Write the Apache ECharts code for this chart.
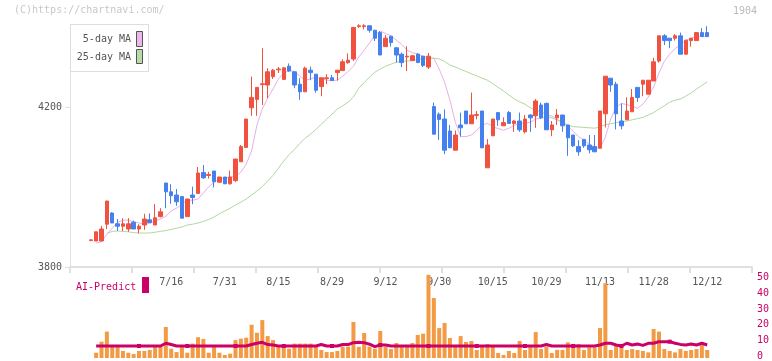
<!DOCTYPE html>
<html><head><meta charset="utf-8">
<script src="https://cdn.jsdelivr.net/npm/echarts@6/dist/echarts.min.js"></script>
<style>html,body{margin:0;padding:0;background:#fff}#c{width:772px;height:361px}</style>
</head><body><div id="c"></div>
<script>
const dates = ['6/25','6/26','6/27','6/30',
'7/1','7/2','7/3','7/4','7/7','7/8','7/9','7/10','7/11','7/14','7/15','7/16','7/17','7/18','7/22','7/23','7/24','7/25','7/28','7/29','7/30','7/31',
'8/1','8/4','8/5','8/6','8/7','8/8','8/12','8/13','8/14','8/15','8/18','8/19','8/20','8/21','8/22','8/25','8/26','8/27','8/28','8/29',
'9/1','9/2','9/3','9/4','9/5','9/8','9/9','9/10','9/11','9/12','9/16','9/17','9/18','9/19','9/22','9/24','9/25','9/26','9/29','9/30',
'10/1','10/2','10/3','10/6','10/7','10/8','10/9','10/10','10/14','10/15','10/16','10/17','10/20','10/21','10/22','10/23','10/24','10/27','10/28','10/29','10/30','10/31',
'11/4','11/5','11/6','11/7','11/10','11/11','11/12','11/13','11/14','11/17','11/18','11/19','11/20','11/21','11/25','11/26','11/27','11/28',
'12/1','12/2','12/3','12/4','12/5','12/8','12/9','12/10','12/11','12/12'];
const tickLabels = ['7/16','7/31','8/15','8/29','9/12','9/30','10/15','10/29','11/13','11/28','12/12'];
const priceTicks = [3800, 4200];
const volumeTicks = [0, 10, 20, 30, 40, 50];

const opens = [3866,3865,3865,3907,3935,3908,3902,3895,3912,3895,
3905,3918,3905,3926,4010,3988,3980,3976,3926,3980,
3984,4036,4029,4040,4012,4025,4008,4016,4063,4099,
4198,4219,4256,4255,4276,4293,4269,4302,4288,4257,
4238,4292,4282,4251,4271,4273,4286,4291,4311,4320,
4401,4401,4403,4392,4386,4351,4377,4348,4332,4325,
4316,4332,4327,4300,4201,4182,4170,4140,4092,4155,
4190,4158,4179,4190,4048,4128,4186,4153,4186,4159,
4165,4138,4180,4178,4205,4209,4143,4173,4180,4155,
4130,4101,4119,4105,4101,4097,4183,4272,4257,4165,
4168,4188,4249,4257,4232,4265,4315,4378,4372,4372,
4378,4332,4366,4366,4386,4386];
const closes = [3868,3888,3895,3965,3910,3902,3908,3908,3895,3902,
3920,3911,3923,3938,3988,3978,3963,3922,3970,3974,
4035,4023,4031,4013,4025,4008,4025,4070,4101,4170,
4224,4249,4258,4288,4292,4295,4298,4290,4255,4238,
4297,4286,4242,4273,4273,4266,4292,4313,4317,4399,
4403,4403,4392,4372,4330,4372,4361,4330,4311,4327,
4328,4311,4304,4327,4132,4169,4092,4098,4130,4148,
4158,4180,4181,4098,4105,4170,4168,4161,4159,4165,
4143,4170,4173,4215,4173,4143,4155,4180,4153,4123,
4103,4088,4103,4093,4088,4190,4277,4255,4183,4153,
4190,4224,4224,4267,4267,4313,4378,4366,4366,4378,
4332,4367,4372,4386,4376,4376];
const lows = [3866,3865,3865,3895,3910,3890,3890,3888,3895,3884,
3893,3910,3905,3924,3947,3958,3953,3922,3926,3957,
3984,4020,4021,3999,4010,4008,4006,4012,4063,4099,
4178,4178,4205,4222,4270,4285,4269,4288,4247,4218,
4238,4267,4236,4227,4257,4265,4266,4291,4308,4315,
4398,4394,4386,4365,4330,4351,4351,4311,4300,4290,
4316,4311,4300,4295,4132,4118,4082,4098,4092,4126,
4158,4158,4169,4098,4048,4128,4153,4153,4159,4138,
4138,4134,4138,4148,4170,4143,4127,4155,4138,4078,
4100,4078,4098,4084,4088,4097,4149,4238,4144,4144,
4168,4188,4213,4227,4232,4265,4311,4355,4347,4366,
4332,4332,4351,4366,4376,4376];
const highs = [3868,3888,3903,3965,3937,3920,3922,3922,3916,3907,
3933,3934,3957,3947,4010,4007,3995,3976,3970,4001,
4050,4055,4038,4040,4025,4025,4041,4070,4105,4170,
4276,4249,4347,4297,4295,4300,4298,4309,4288,4272,
4301,4301,4282,4273,4282,4280,4292,4319,4334,4399,
4407,4407,4404,4392,4390,4380,4377,4350,4336,4352,
4330,4335,4327,4335,4211,4186,4194,4155,4141,4186,
4190,4236,4190,4190,4120,4170,4186,4174,4190,4167,
4186,4180,4182,4220,4211,4211,4165,4195,4180,4155,
4130,4117,4119,4130,4130,4190,4277,4272,4263,4209,
4224,4245,4249,4267,4267,4323,4378,4382,4372,4382,
4386,4367,4372,4386,4397,4402];

const ma5 = [null,3860,3863,3882,3897,3912,3917,3917,3913,3910,
3907,3909,3915,3920,3927,3940,3947,3957,3967,3967,
3970,3985,4000,4012,4020,4022,4025,4026,4037,4057,
4090,4155,4195,4222,4245,4270,4285,4291,4289,4277,
4267,4270,4275,4271,4267,4266,4267,4277,4289,4302,
4325,4342,4360,4380,4390,4384,4378,4367,4357,4342,
4336,4332,4327,4325,4321,4295,4262,4217,4162,4126,
4126,4130,4142,4155,4159,4151,4146,4142,4147,4154,
4159,4159,4162,4170,4172,4175,4173,4167,4162,4152,
4139,4126,4117,4107,4099,4097,4125,4170,4200,4209,
4206,4202,4197,4207,4225,4250,4285,4314,4332,4346,
4355,4367,4372,4376,4377,4376];
const ma25 = [null,null,null,3884,3889,3890,3889,3888,3886,3885,
3885,3885,3887,3889,3891,3894,3897,3900,3905,3907,
3910,3914,3919,3925,3933,3940,3947,3955,3962,3970,
3980,3990,4001,4015,4029,4047,4065,4081,4094,4109,
4122,4132,4144,4157,4170,4182,4195,4203,4212,4225,
4247,4261,4275,4287,4295,4302,4307,4312,4314,4315,
4316,4319,4321,4322,4322,4320,4314,4305,4300,4294,
4289,4283,4278,4272,4267,4258,4249,4240,4230,4220,
4213,4207,4198,4192,4188,4182,4177,4170,4161,4155,
4151,4150,4149,4148,4147,4150,4156,4158,4161,4163,
4165,4168,4171,4174,4180,4186,4195,4203,4212,4217,
4220,4227,4235,4245,4254,4263];

const volume = [null,3.3,10.2,16.5,7.1,6.8,4.4,3.3,2.5,4.4,
4.4,5,6.9,7.7,19.4,5.8,3.7,6.9,3.3,9,
13,11.9,3.3,6.9,3.3,1.9,2.7,11.2,12.1,12.7,
20.8,15.8,23.7,13.7,11.2,7.1,7.1,5.8,9,9,
9,9,7.1,5,3.7,3.7,4.4,7.1,7.1,22.5,
7,15.6,7.1,5.8,16.9,7.1,5.6,9.4,7.1,7.1,
9.4,14.4,15.2,52,37.5,18.7,21.9,12.5,7.1,13.7,
10,10.6,5,7.1,8.7,7.1,3.1,1.9,4.4,3.1,
10.6,5,7.1,16.2,5.6,7.1,3.1,5.1,5,9.8,
6.7,8.7,5,6.7,6.7,18.7,46.7,5,8.1,6.2,
5,5.6,5,4.4,3.5,18.1,16.5,5.6,4.4,3.5,
5.6,4.4,5,5.6,8.1,5];
const aiPredict = [null,7.5,7.5,7.5,7.5,7.5,7.5,7.5,7.5,7.5,
7.5,7.5,7.5,7.5,9.2,8.4,7.5,7.5,7.5,7.5,
7.5,7.5,7.5,7.5,7.5,7.5,7.5,7.5,7.5,7.5,
8.4,9.2,9.8,8.4,8.1,7.5,7.5,7.5,7.5,7.5,
7.5,7.5,7.5,8.4,7.5,7.5,7.5,8.4,8.4,9.6,
9.8,9.6,8.6,7.1,8.1,8.1,7.5,7.5,7.5,7.5,
7.5,7.5,7.5,7.5,7.5,7.5,7.5,7.5,7.5,7.5,
7.5,7.5,7.5,7.5,7.5,7.5,7.5,7.5,7.5,7.5,
7.5,7.5,7.5,7.5,7.5,8.4,7.5,7.5,7.5,7.5,
7.5,7.5,7.5,7.5,7.5,8.1,9.2,9.2,8.1,7.5,
9.2,8.1,8.7,7.9,9.2,9.2,10.2,10.2,10.2,9.2,
8.5,8.1,8.7,8.1,9.2,8.1];

const FONT = '"DejaVu Sans Mono", monospace';
const UP = '#f0523f', DOWN = '#4480ee';
const candleData = dates.map((d, i) => [opens[i], closes[i], lows[i], highs[i]]);

const chart = echarts.init(document.getElementById('c'), null, {renderer: 'canvas'});
chart.setOption({
  animation: false,
  backgroundColor: '#fff',
  textStyle: {fontFamily: FONT},
  grid: [
    {left: 70, top: 24, width: 682, height: 243},
    {left: 88.1, top: 24, width: 621.8, height: 243},
    {left: 88.1, top: 262, width: 621.8, height: 96},
    {left: 70, top: 262, width: 682, height: 96}
  ],
  xAxis: [
    {gridIndex: 0, type: 'value', min: 0, max: 11, interval: 1,
     axisLine: {show: true, onZero: false, lineStyle: {color: '#e0e0e0', width: 2}},
     axisTick: {show: true, length: 6, lineStyle: {color: '#e0e0e0', width: 2}},
     axisLabel: {show: false}, splitLine: {show: false}},
    {gridIndex: 1, type: 'category', data: dates, boundaryGap: true,
     axisLine: {show: false}, axisTick: {show: false}, splitLine: {show: false},
     axisLabel: {interval: (i, v) => tickLabels.includes(v), margin: 10, color: '#555', fontSize: 10, fontFamily: FONT}},
    {gridIndex: 2, type: 'category', data: dates, boundaryGap: true, show: false},
    {gridIndex: 3, type: 'value', min: 0, max: 1, show: false}
  ],
  yAxis: [
    {gridIndex: 0, type: 'value', min: 3800, max: 4407.5,
     axisLine: {show: true, onZero: false, lineStyle: {color: '#e0e0e0', width: 1}},
     axisTick: {show: true, length: 5, customValues: priceTicks, lineStyle: {color: '#e0e0e0'}},
     axisLabel: {customValues: priceTicks, formatter: v => String(Math.round(v)), color: '#555', fontSize: 10, margin: 8, fontFamily: FONT},
     splitLine: {show: false}},
    {gridIndex: 1, type: 'value', min: 3800, max: 4407.5, show: false},
    {gridIndex: 2, type: 'value', min: 0, max: 60, show: false},
    {gridIndex: 3, type: 'value', min: 0, max: 60, interval: 10, position: 'right',
     axisLine: {show: false}, axisTick: {show: false}, splitLine: {show: false},
     axisLabel: {customValues: volumeTicks, formatter: v => String(Math.round(v)), color: '#cc0066', fontSize: 10, margin: 5, fontFamily: FONT}}
  ],
  series: [
    {name: '5-day MA', type: 'line', xAxisIndex: 1, yAxisIndex: 1, data: ma5, symbol: 'none',
     lineStyle: {color: '#e8b0e8', width: 1}, z: 1},
    {name: '25-day MA', type: 'line', xAxisIndex: 1, yAxisIndex: 1, data: ma25, symbol: 'none',
     lineStyle: {color: '#b0d8a0', width: 1}, z: 1},
    {type: 'candlestick', xAxisIndex: 1, yAxisIndex: 1, data: candleData, barWidth: 4,
     itemStyle: {color: UP, color0: DOWN, borderColor: UP, borderColor0: DOWN, borderWidth: 1}, z: 3},
    {type: 'bar', xAxisIndex: 2, yAxisIndex: 2, data: volume, barWidth: 4,
     itemStyle: {color: '#f39a45'}, z: 2},
    {type: 'line', xAxisIndex: 2, yAxisIndex: 2, data: aiPredict, symbol: 'rect', symbolSize: 4,
     itemStyle: {color: '#cc0066'}, lineStyle: {color: '#cc0066', width: 3}, z: 4}
  ],
  graphic: [
    {type: 'text', left: 14, top: 5, z: 100, style: {text: '(C)https://chartnavi.com/', fill: '#c8c8c8', font: '10px ' + FONT}},
    {type: 'text', right: 15, top: 6, z: 100, style: {text: '1904', fill: '#bbbbbb', font: '10px ' + FONT}},
    {type: 'rect', z: 100, shape: {x: 70.5, y: 24.5, width: 78, height: 47}, style: {fill: '#fff', stroke: '#dddddd', lineWidth: 1}},
    {type: 'text', z: 101, x: 131, y: 39, style: {text: '5-day MA', fill: '#555', font: '10px ' + FONT, textAlign: 'right', textVerticalAlign: 'middle'}},
    {type: 'rect', z: 101, shape: {x: 136.5, y: 31.5, width: 6, height: 15}, style: {fill: '#ecb8ec', stroke: '#555', lineWidth: 1}},
    {type: 'text', z: 101, x: 131, y: 57, style: {text: '25-day MA', fill: '#555', font: '10px ' + FONT, textAlign: 'right', textVerticalAlign: 'middle'}},
    {type: 'rect', z: 101, shape: {x: 136.5, y: 49.5, width: 6, height: 14}, style: {fill: '#b8dca8', stroke: '#555', lineWidth: 1}},
    {type: 'text', z: 101, x: 76, y: 287, style: {text: 'AI-Predict', fill: '#cc0066', font: '10px ' + FONT, textAlign: 'left', textVerticalAlign: 'middle'}},
    {type: 'rect', z: 101, shape: {x: 142, y: 277, width: 7, height: 16}, style: {fill: '#cc0066'}}
  ]
});
</script>
</body></html>
